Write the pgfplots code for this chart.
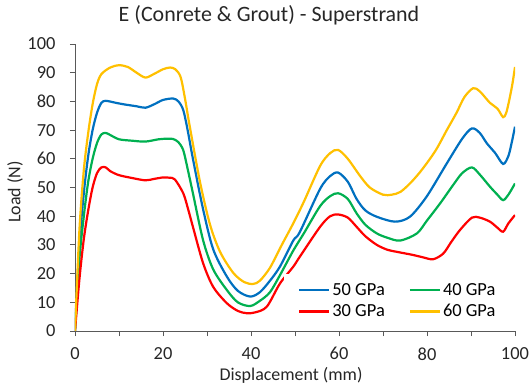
\documentclass[border=0pt]{standalone}
\usepackage{pgfplots}
\pgfplotsset{compat=1.18}
\usepackage{fontspec}
\setmainfont{Carlito}
\definecolor{cblue}{HTML}{0070C0}
\definecolor{cgreen}{HTML}{00B050}
\definecolor{cred}{HTML}{FF0000}
\definecolor{cyellow}{HTML}{FFC000}
\definecolor{axgray}{HTML}{595959}
\begin{document}
\begin{tikzpicture}
\path[use as bounding box] (-75bp,-57bp) rectangle (454bp,331bp);
\begin{axis}[
  scale only axis, width=440bp, height=287bp,
  xmin=0, xmax=100, ymin=0, ymax=100,
  axis lines*=left,
  axis line style={-, axgray, line width=0.8bp},
  xtick={0,20,...,100}, minor xtick={10,30,...,90},
  ytick={0,10,...,100},
  tick align=outside, tick pos=left,
  major tick length=5bp, minor tick length=5bp,
  every tick/.style={axgray, line width=0.8bp},
  every minor tick/.style={axgray, line width=0.8bp},
  tick label style={font=\fontsize{18.5}{20}\selectfont, text=black!85},
  yticklabel style={xshift=-11bp},
  xticklabel style={yshift=-8bp},
  /pgf/number format/assume math mode=true,
  xlabel={Displacement (mm)}, ylabel={Load (N)},
  label style={font=\fontsize{18}{20}\selectfont, text=black!85},
  xlabel style={at={(axis description cs:0.491,0)}, anchor=center, yshift=-44bp},
  ylabel style={at={(axis description cs:-0.136,0.484)}, anchor=center},
  legend columns=2,
  legend style={at={(rel axis cs:0.475,0.199)}, anchor=north west, draw=none, fill=white,
    font=\fontsize{18.5}{20}\selectfont, /tikz/every even column/.append style={column sep=22bp},
    inner xsep=14bp, inner ysep=7bp, row sep=4bp},
  legend image code/.code={\draw[#1] (0bp,0bp) -- (30bp,0bp);},
  every axis plot/.append style={line width=2.2bp, smooth, no markers},
]
\addplot[cblue] coordinates {(0,0)(1,30)(2,48)(3,61)(4,70)(5,76)(6,79.5)(7,80.2)(9,79.6)(11,79)(14,78.3)(16,77.8)(18,79)(20,80.5)(22.3,81)(23.5,80)(24.6,77)(25.6,70)(26.8,60)(29.1,42.5)(31.4,28.5)(34.5,19)(37,14)(39.8,12)(42,13.5)(44.3,17.5)(46.6,22.5)(49.6,31.5)(51.1,34.5)(55.7,49.5)(58,54)(59.8,55.2)(62,52)(64,46)(66,42)(68.6,39.8)(72.7,38.1)(76.1,39.8)(79.9,46.8)(84.5,58.4)(88,67)(90.2,70.6)(92,69)(93.6,65.4)(95.5,62)(97.3,58.2)(98.5,61)(99.3,66)(100,71.2)};
\addlegendentry{50 GPa}
\addplot[cgreen] coordinates {(0,0)(1,25)(2,40)(3,52)(4,60)(5,65.5)(6,68.5)(7,69)(8,68.3)(10,66.8)(13,66.3)(16,66)(19,66.8)(21,67)(22.3,66.9)(23.5,65.8)(24.6,63)(25.6,56.5)(26.8,48)(29.1,31.7)(31.4,21.5)(34.5,14.3)(37,10)(39.8,8.7)(42,10.5)(44.3,13.5)(46.6,19.5)(49.6,28)(52,34)(55.7,43.5)(58,47)(59.8,48)(62,46)(64,41)(66,37)(68.6,34)(71,32.5)(73.9,31.5)(77.7,34)(80,38.5)(83,44.5)(86,51)(88,55)(90.2,57)(92,54.5)(94.3,50.3)(96,47.5)(97.3,45.6)(98.5,47.5)(100,51.4)};
\addlegendentry{40 GPa}
\addplot[cred] coordinates {(0,0)(1,18)(2,32)(3,42)(4,50)(5,55)(6,57)(7,57)(8,55.7)(10,54.3)(13,53.3)(16,52.5)(18,53)(20,53.5)(21.5,53.4)(22.7,52.8)(24.6,48)(25.7,42.5)(26.8,36.3)(29.1,23.7)(31.4,15.4)(34.5,9.7)(37,7)(39,6.2)(41,6.5)(43.6,8.5)(46.6,16.6)(49.6,22.4)(51.1,25.9)(55.7,36.3)(58,40)(59.8,40.6)(62,39.5)(64,36.3)(66,33)(68.6,30)(71,28.3)(73.1,27.6)(76.8,26.5)(79,25.7)(81.4,25)(83.7,27)(85.5,31)(87.5,35.2)(90.2,39.5)(92,39.5)(94.3,38.1)(96,36)(97.3,34.6)(98.5,37.5)(100,40.4)};
\addlegendentry{30 GPa}
\addplot[cyellow] coordinates {(0,0)(1,35)(2,56)(3,69)(4,79)(5,86)(6,89.5)(8,91.8)(10,92.6)(12,92)(14,90)(16,88.3)(18,89.6)(20,91.2)(21.6,91.8)(22.8,91.2)(24,88.5)(25,81)(26,72)(28.4,52)(30.7,37)(33,27.5)(36,20.2)(38.5,17)(40.5,16.4)(42,17.5)(44.3,22)(47,30)(49.6,37.5)(52,45)(55.7,57.5)(58,62)(59.8,63.1)(62,60)(64.8,54)(67,50)(70,47.5)(72,47.5)(74,48.5)(76.5,52)(79,56.5)(82,63)(84.5,70)(86.7,76)(88.5,81.5)(90.5,84.6)(92,83.5)(94.3,79.5)(96,77.5)(97.3,74.5)(98,76)(98.7,80.5)(99.4,86)(100,92)};
\addlegendentry{60 GPa}
\end{axis}
\node[font=\fontsize{22}{25}\selectfont, text=black!85] at (194bp,316bp) {E (Conrete \& Grout) - Superstrand};
\end{tikzpicture}
\end{document}
